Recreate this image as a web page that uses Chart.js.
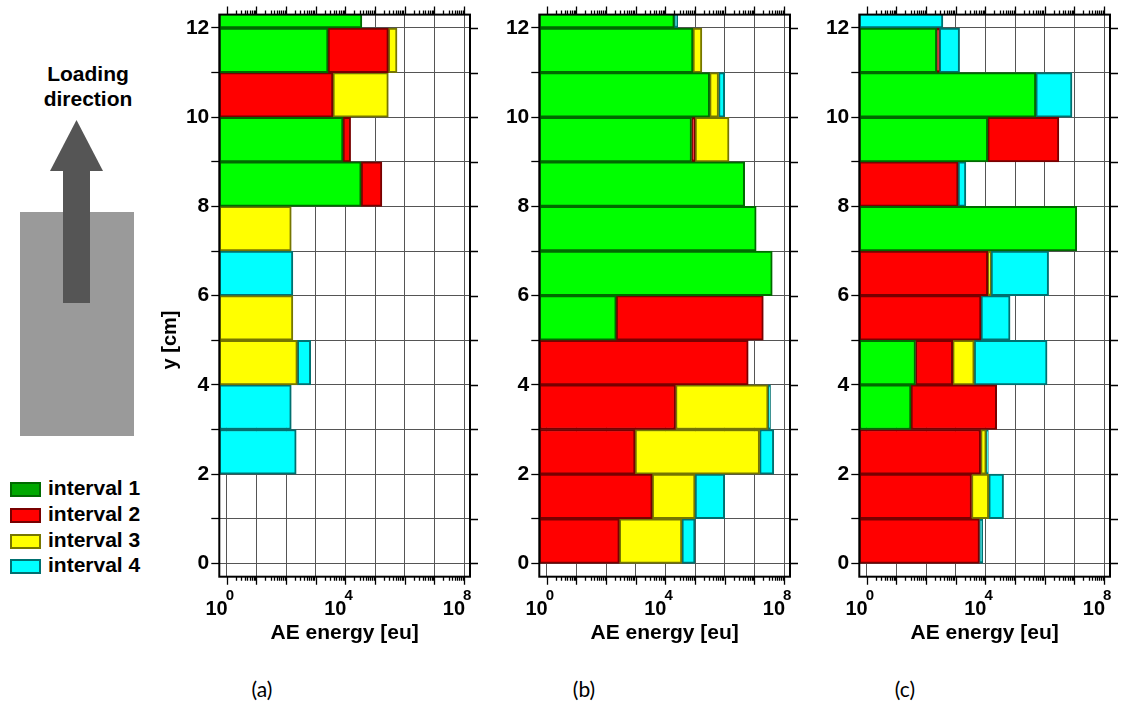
<!DOCTYPE html>
<html>
<head>
<meta charset="utf-8">
<script src="https://cdn.jsdelivr.net/npm/chart.js@4/dist/chart.umd.min.js"></script>
<style>
  body { margin: 0; background: #fff; }
  #page { position: relative; width: 1123px; height: 721px; overflow: hidden; font-family: "Liberation Sans", Arial, sans-serif; color: #000; }
  canvas.panel { position: absolute; top: 0; }
  .txt { position: absolute; font-weight: bold; font-size: 21px; }
  #load { left: 18px; top: 61px; width: 140px; text-align: center; line-height: 25px; }
  #block { position: absolute; left: 20px; top: 212px; width: 114px; height: 224px; background: #9a9a9a; }
  #shaft { position: absolute; left: 63px; top: 168px; width: 27px; height: 135px; background: #555; }
  #head { position: absolute; left: 50px; top: 120px; width: 53px; height: 51px; background: #555; clip-path: polygon(50% 0, 100% 100%, 0 100%); }
  .sw { position: absolute; left: 10px; width: 27px; height: 11px; border: 2px solid; }
  .lg { position: absolute; left: 48px; font-weight: bold; font-size: 21px; }
  .cap { position: absolute; top: 676px; width: 60px; text-align: center; font-family: Lato, "Open Sans", sans-serif; font-size: 21px; }
</style>
</head>
<body>
<div id="page">
  <div id="load" class="txt">Loading<br>direction</div>
  <div id="block"></div>
  <div id="shaft"></div>
  <div id="head"></div>
  <div id="legend"></div>
  <canvas id="pa" class="panel" width="340" height="660" style="left:150px"></canvas>
  <canvas id="pb" class="panel" width="340" height="660" style="left:470px"></canvas>
  <canvas id="pc" class="panel" width="340" height="660" style="left:790px"></canvas>
  <div class="cap" style="left:232px">(a)</div>
  <div class="cap" style="left:554px">(b)</div>
  <div class="cap" style="left:875px">(c)</div>
</div>
<script>
// y bins (lower edge, cm); each bar covers 1 cm
const bins = [0, 1, 2, 3, 4, 5, 6, 7, 8, 9, 10, 11, 12];
const yTicks = [0, 1, 2, 3, 4, 5, 6, 7, 8, 9, 10, 11, 12];
const decades = [1, 1e1, 1e2, 1e3, 1e4, 1e5, 1e6, 1e7, 1e8];
const xLabels = [1, 1e4, 1e8];
const seriesNames = ['interval 1', 'interval 2', 'interval 3', 'interval 4'];
const fillColors = ['#00ff00', '#ff0000', '#ffff00', '#00ffff'];
const edgeColors = ['#006a00', '#780000', '#767600', '#007070'];
const legendFill = ['#00a800', '#ff0000', '#ffff00', '#00ffff'];

// cumulative AE energy [eu] at the right end of each interval's segment, per bin
const a1 = [null, null, null, null, null, null, null, null, 3.4e4, 8.3e3, null, 2.6e3, 3.6e4];
const a2 = [null, null, null, null, null, null, null, null, 1.7e5, 1.5e4, 3.8e3, 2.8e5, null];
const a3 = [null, null, null, null, 240, 170, null, 150, null, null, 2.8e5, 5.5e5, null];
const a4 = [null, null, 220, 150, 680, null, 170, null, null, null, null, null, null];

const b1 = [null, null, null, null, null, 220, 4.0e7, 1.15e7, 4.7e6, 7.6e4, 3.1e5, 8.5e4, 2.0e4];
const b2 = [280, 3.6e3, 950, 2.2e4, 6.2e6, 2.0e7, null, null, null, 1.0e5, null, null, null];
const b3 = [3.6e4, 1.0e5, 1.5e7, 2.9e7, null, null, null, null, null, 1.4e6, 6.2e5, 1.7e5, null];
const b4 = [1.0e5, 1.0e6, 4.5e7, 3.5e7, null, null, null, null, null, null, 1.0e6, null, 2.6e4];

const c1 = [null, null, null, 31, 44, null, null, 1.2e7, null, 1.2e4, 5.0e5, 230, null];
const c2 = [6.3e3, 3.4e3, 6.9e3, 2.4e4, 790, 7.1e3, 1.2e4, null, 1.2e3, 3.0e6, null, 280, null];
const c3 = [null, 1.3e4, 1.07e4, null, 4.2e3, null, 1.55e4, null, null, null, null, null, null];
const c4 = [8.1e3, 4.1e4, 1.26e4, null, 1.2e6, 6.8e4, 1.35e6, null, 2.2e3, null, 8.3e6, 1.35e3, 370];

const xMin = Math.pow(10, -0.25), xMax = Math.pow(10, 8.2);
const FONT = '"Liberation Sans", Arial, sans-serif';

// legend
const legend = document.getElementById('legend');
seriesNames.forEach(function(name, k) {
  const top = 482 + k * 25.8;
  const sw = document.createElement('div');
  sw.className = 'sw';
  sw.style.top = top + 'px';
  sw.style.background = legendFill[k];
  sw.style.borderColor = edgeColors[k];
  legend.appendChild(sw);
  const t = document.createElement('div');
  t.className = 'lg';
  t.style.top = (top - 6) + 'px';
  t.textContent = name;
  legend.appendChild(t);
});

function makeDatasets(series) {
  return series.map(function(edges, k) {
    const data = [];
    bins.forEach(function(b, i) {
      if (edges[i] == null) return;
      let start = xMin;
      for (let j = k - 1; j >= 0; j--) {
        if (series[j][i] != null) { start = series[j][i]; break; }
      }
      data.push({ y: b + 0.5, x: [start, edges[i]] });
    });
    return {
      label: seriesNames[k],
      data: data,
      backgroundColor: fillColors[k],
      borderColor: edgeColors[k],
      borderWidth: 2,
      borderSkipped: false,
      grouped: false,
      categoryPercentage: 1,
      barPercentage: 1,
      clip: 0
    };
  });
}

const frameTicks = {
  id: 'frameTicks',
  afterDatasetsDraw(chart, args, opts) {
    const ctx = chart.ctx, a = chart.chartArea, x = chart.scales.x, y = chart.scales.y;
    ctx.save();
    ctx.strokeStyle = '#000';
    ctx.lineWidth = 1.3;
    ctx.beginPath();
    decades.forEach(function(d, e) {
      const ms = e < decades.length - 1 ? [1, 2, 3, 4, 5, 6, 7, 8, 9] : [1];
      ms.forEach(function(m) {
        const px = Math.round(x.getPixelForValue(d * m)) + 0.5;
        const len = m === 1 ? 8 : 4;
        ctx.moveTo(px, a.top); ctx.lineTo(px, a.top - len);
        ctx.moveTo(px, a.bottom); ctx.lineTo(px, a.bottom + len);
      });
    });
    yTicks.forEach(function(v) {
      const py = Math.round(y.getPixelForValue(v)) + 0.5;
      ctx.moveTo(a.right, py); ctx.lineTo(a.right + 8, py);
    });
    ctx.stroke();
    ctx.lineWidth = 2;
    ctx.strokeRect(a.left, a.top, a.right - a.left, a.bottom - a.top);

    ctx.fillStyle = '#000';
    ctx.textBaseline = 'alphabetic';
    xLabels.forEach(function(v) {
      const px = x.getPixelForValue(v);
      ctx.font = 'bold 20px ' + FONT;
      ctx.textAlign = 'right';
      ctx.fillText('10', px + 1, 615);
      ctx.font = 'bold 15px ' + FONT;
      ctx.textAlign = 'left';
      ctx.fillText(String(Math.round(Math.log10(v))), px - 1, 600);
    });
    if (opts.yTitle) {
      ctx.translate(opts.yTitleX, 340);
      ctx.rotate(-Math.PI / 2);
      ctx.font = 'bold 20px ' + FONT;
      ctx.textAlign = 'center';
      ctx.textBaseline = 'middle';
      ctx.fillText(opts.yTitle, 0, 0);
    }
    ctx.restore();
  }
};

function makeChart(id, series, yTitle) {
  return new Chart(document.getElementById(id), {
    type: 'bar',
    data: { datasets: makeDatasets(series) },
    options: {
      indexAxis: 'y',
      responsive: false,
      animation: false,
      devicePixelRatio: 1,
      layout: { padding: { left: 0, right: 20, top: 13.3, bottom: 0 } },
      plugins: {
        legend: { display: false },
        tooltip: { enabled: false },
        frameTicks: { yTitle: yTitle, yTitleX: 20 }
      },
      scales: {
        y: {
          type: 'linear',
          offset: false,
          min: -0.3,
          max: 12.3,
          afterBuildTicks: function(s) { s.ticks = yTicks.map(function(v) { return { value: v }; }); },
          afterFit: function(s) { s.width = 69.3; },
          ticks: {
            autoSkip: false,
            padding: 2,
            color: '#000',
            font: { family: FONT, weight: 'bold', size: 21 },
            callback: function(v) { return v % 2 === 0 ? String(v) : ''; }
          },
          grid: { offset: false, color: '#555', lineWidth: 1, tickLength: 8, tickColor: '#000', tickWidth: 1.3 },
          border: { display: false }
        },
        x: {
          type: 'logarithmic',
          min: xMin,
          max: xMax,
          afterBuildTicks: function(s) { s.ticks = decades.map(function(v) { return { value: v }; }); },
          afterFit: function(s) { s.height = 83.3; },
          ticks: { display: false },
          grid: { color: '#555', lineWidth: 1, drawTicks: false },
          border: { display: false },
          title: {
            display: true,
            text: 'AE energy [eu]',
            color: '#000',
            font: { family: FONT, weight: 'bold', size: 21 },
            padding: { top: 0, bottom: 14 }
          }
        }
      }
    },
    plugins: [frameTicks]
  });
}

makeChart('pa', [a1, a2, a3, a4], 'y [cm]');
makeChart('pb', [b1, b2, b3, b4], null);
makeChart('pc', [c1, c2, c3, c4], null);
</script>
</body>
</html>
